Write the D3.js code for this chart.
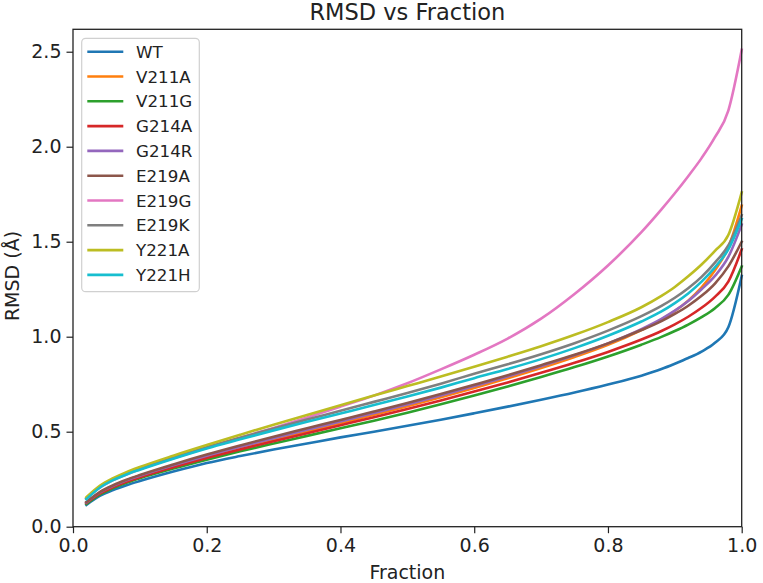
<!DOCTYPE html>
<html>
<head>
<meta charset="utf-8">
<script src="https://cdn.jsdelivr.net/npm/d3@7"></script>
<style>
  html, body { margin: 0; padding: 0; background: #fff; }
  svg { display: block; font-family: "DejaVu Sans", sans-serif; }
</style>
</head>
<body>
<svg id="chart" width="763" height="583"></svg>
<script>
const fractions = [0.02,0.04,0.06,0.08,0.10,0.15,0.20,0.25,0.30,0.35,0.40,0.45,0.50,0.55,0.60,0.65,0.70,0.75,0.80,0.85,0.88,0.90,0.92,0.94,0.96,0.98,1.00];

const seriesNames = ["WT","V211A","V211G","G214A","G214R","E219A","E219G","E219K","Y221A","Y221H"];

const WT    = [0.115,0.162,0.193,0.218,0.240,0.290,0.335,0.372,0.406,0.438,0.470,0.500,0.531,0.563,0.597,0.632,0.668,0.706,0.748,0.795,0.830,0.858,0.888,0.922,0.968,1.050,1.320];
const V211A = [0.125,0.177,0.212,0.241,0.265,0.319,0.369,0.415,0.459,0.502,0.545,0.589,0.634,0.681,0.730,0.781,0.835,0.893,0.957,1.035,1.090,1.135,1.190,1.260,1.350,1.470,1.690];
const V211G = [0.120,0.169,0.203,0.231,0.255,0.306,0.353,0.397,0.438,0.478,0.518,0.558,0.600,0.644,0.690,0.738,0.788,0.840,0.896,0.958,0.999,1.030,1.064,1.103,1.150,1.220,1.370];
const G214A = [0.125,0.174,0.208,0.236,0.260,0.313,0.362,0.407,0.450,0.492,0.534,0.576,0.619,0.664,0.711,0.759,0.810,0.863,0.920,0.985,1.030,1.065,1.105,1.152,1.210,1.290,1.460];
const G214R = [0.128,0.180,0.215,0.244,0.268,0.323,0.374,0.421,0.466,0.510,0.554,0.598,0.643,0.690,0.740,0.791,0.845,0.902,0.965,1.040,1.094,1.137,1.188,1.250,1.320,1.420,1.590];
const E219A = [0.130,0.182,0.218,0.247,0.272,0.328,0.380,0.428,0.474,0.518,0.562,0.606,0.651,0.698,0.747,0.797,0.850,0.905,0.965,1.035,1.082,1.120,1.163,1.215,1.280,1.370,1.500];
const E219G = [0.148,0.205,0.245,0.275,0.302,0.360,0.415,0.468,0.520,0.575,0.632,0.690,0.755,0.828,0.905,0.990,1.095,1.225,1.375,1.550,1.670,1.755,1.845,1.940,2.050,2.190,2.510];
const E219K = [0.150,0.210,0.250,0.280,0.306,0.364,0.418,0.468,0.517,0.564,0.610,0.657,0.704,0.753,0.805,0.855,0.908,0.966,1.032,1.108,1.162,1.205,1.255,1.315,1.390,1.480,1.640];
const Y221A = [0.155,0.215,0.255,0.287,0.314,0.374,0.430,0.484,0.537,0.588,0.639,0.690,0.740,0.790,0.842,0.895,0.950,1.010,1.077,1.155,1.215,1.262,1.318,1.380,1.452,1.535,1.760];
const Y221H = [0.145,0.205,0.245,0.275,0.300,0.358,0.412,0.460,0.507,0.552,0.596,0.640,0.685,0.732,0.782,0.830,0.882,0.940,1.005,1.080,1.133,1.177,1.228,1.290,1.365,1.460,1.620];

const seriesValues = [WT, V211A, V211G, G214A, G214R, E219A, E219G, E219K, Y221A, Y221H];
const colors = ["#1f77b4","#ff7f0e","#2ca02c","#d62728","#9467bd","#8c564b","#e377c2","#7f7f7f","#bcbd22","#17becf"];

const xTicks = [0.0,0.2,0.4,0.6,0.8,1.0];
const yTicks = [0.0,0.5,1.0,1.5,2.0,2.5];

const titleText = "RMSD vs Fraction";
const xLabelText = "Fraction";
const yLabelText = "RMSD (Å)";

const svg = d3.select("#chart");
const mLeft = 73, mRight = 741.7, mTop = 29.3, mBottom = 526.7;

const x = d3.scaleLinear().domain([0, 1]).range([mLeft, mRight]);
const y = d3.scaleLinear().domain([0, 2.618]).range([mBottom, mTop]);

// lines
const line = d3.line().x(d => x(d[0])).y(d => y(d[1])).curve(d3.curveMonotoneX);
const plot = svg.append("g");
seriesValues.forEach((vals, i) => {
  plot.append("path")
    .datum(fractions.map((f, j) => [f, vals[j]]))
    .attr("fill", "none")
    .attr("stroke", colors[i])
    .attr("stroke-width", 2.6)
    .attr("stroke-linejoin", "round")
    .attr("stroke-linecap", "square")
    .attr("d", line);
});

// axes
const tickFont = 19;
const xAxis = d3.axisBottom(x).tickValues(xTicks).tickFormat(d3.format(".1f")).tickSize(6.5).tickPadding(5);
const yAxis = d3.axisLeft(y).tickValues(yTicks).tickFormat(d3.format(".1f")).tickSize(6.5).tickPadding(5);

const gx = svg.append("g").attr("transform", `translate(0,${mBottom})`).call(xAxis);
const gy = svg.append("g").attr("transform", `translate(${mLeft},0)`).call(yAxis);
[gx, gy].forEach(g => {
  g.select(".domain").remove();
  g.selectAll(".tick line").attr("stroke", "#222").attr("stroke-width", 1.2);
  g.selectAll(".tick text").attr("fill", "#222").style("font-size", tickFont + "px").style("font-family", "DejaVu Sans");
});

// frame
svg.append("rect")
  .attr("x", mLeft).attr("y", mTop)
  .attr("width", mRight - mLeft).attr("height", mBottom - mTop)
  .attr("fill", "none").attr("stroke", "#222").attr("stroke-width", 1.3);

// title and labels
svg.append("text").attr("x", (mLeft + mRight) / 2).attr("y", 19.5)
  .attr("text-anchor", "middle").style("font-size", "22.5px").attr("fill", "#222").text(titleText);
svg.append("text").attr("x", (mLeft + mRight) / 2).attr("y", 579)
  .attr("text-anchor", "middle").style("font-size", "19px").attr("fill", "#222").text(xLabelText);
svg.append("text").attr("transform", "translate(18.5,276) rotate(-90)")
  .attr("text-anchor", "middle").style("font-size", "19px").attr("fill", "#222").text(yLabelText);

// legend
const lg = svg.append("g");
lg.append("rect").attr("x", 81.7).attr("y", 38.3).attr("width", 117.6).attr("height", 253.4)
  .attr("rx", 4).attr("ry", 4).attr("fill", "#fff").attr("fill-opacity", 0.8)
  .attr("stroke", "#d0d0d0").attr("stroke-width", 1.2);
seriesNames.forEach((name, i) => {
  const cy = 51.7 + i * 24.8;
  lg.append("line").attr("x1", 87.3).attr("x2", 123.3).attr("y1", cy).attr("y2", cy)
    .attr("stroke", colors[i]).attr("stroke-width", 2.6);
  lg.append("text").attr("x", 136).attr("y", cy).attr("dy", "0.36em")
    .style("font-size", "16.7px").attr("fill", "#222").text(name);
});
</script>
</body>
</html>
